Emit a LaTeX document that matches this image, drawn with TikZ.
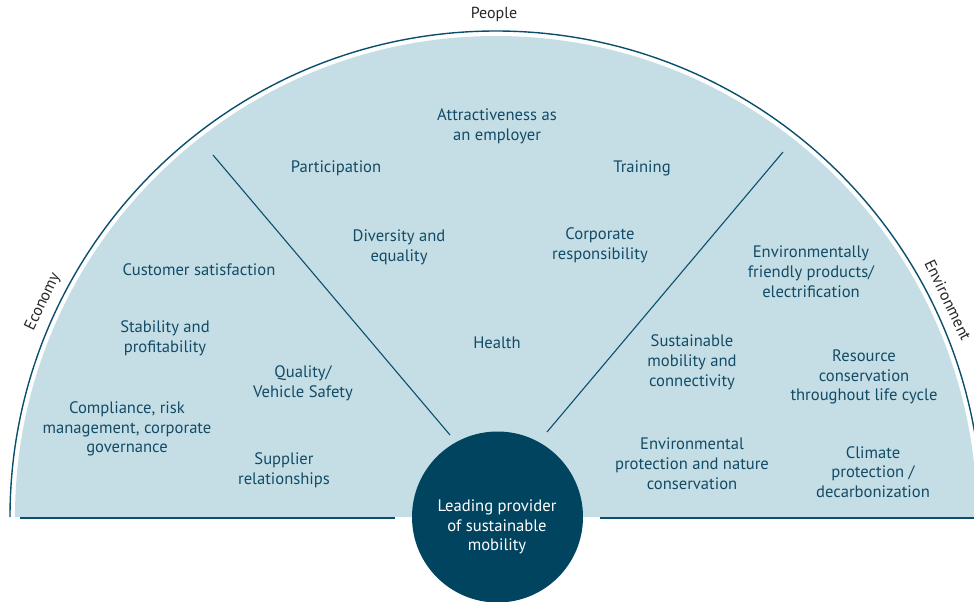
\documentclass[tikz,border=0pt]{standalone}
\usepackage{fontspec}
\setmainfont{PT Sans}
\definecolor{fillblue}{HTML}{C5DEE5}
\definecolor{darkteal}{HTML}{00445F}
\definecolor{linecol}{HTML}{0B4F6C}
\definecolor{txtcol}{HTML}{124B66}
\begin{document}
\begin{tikzpicture}[x=1pt,y=-1pt,
  item/.style={text=txtcol,font=\fontsize{16.6}{19.8}\selectfont,align=center,inner sep=0pt},
  pillar/.style={text=black!85,font=\fontsize{16}{18}\selectfont,inner sep=0pt},
  rule/.style={draw=linecol,line width=1.3pt}]
\useasboundingbox (0,0) rectangle (974,602);
\clip (0,0) rectangle (974,602);
% fill semicircle
\fill[fillblue] (15,517) arc[start angle=180,end angle=360,radius=481] -- cycle;
% outer arc
\draw[draw=linecol,line width=1.4pt] (10,517) arc[start angle=180,end angle=360,radius=486];
% baselines
\coordinate (bl1) at (20,518);
\coordinate (bl2) at (395,518);
\coordinate (br1) at (600,518);
\coordinate (br2) at (974,518);
\draw[rule] (bl1) -- (bl2);
\draw[rule] (br1) -- (br2);
% dividers
\coordinate (dl1) at (213,155);
\coordinate (dl2) at (450,435);
\coordinate (dr1) at (783,152);
\coordinate (dr2) at (547,432);
\draw[draw=linecol,line width=1.1pt] (dl1) -- (dl2);
\draw[draw=linecol,line width=1.1pt] (dr1) -- (dr2);
% centre circle
\node[circle,fill=darkteal,minimum size=171pt,inner sep=0pt] (core) at (497.5,517) {};
\node[text=white,align=center,font=\fontsize{16.6}{19.8}\selectfont,inner sep=0pt] (coretext) at (497,527)
  {Leading provider\\of sustainable\\mobility};
% pillar labels
\node[pillar] (people) at (494,14) {People};
\node[pillar,rotate=64.6] (economy) at (43,302) {Economy};
\node[pillar,rotate=-64.4] (environment) at (948,300) {Environment};
% People
\node[item] (attr) at (497,126) {Attractiveness as\\an employer};
\node[item] (part) at (336,168) {Participation};
\node[item] (train) at (642,168) {Training};
\node[item] (div) at (399,247) {Diversity and\\equality};
\node[item] (corp) at (600,245) {Corporate\\responsibility};
\node[item] (health) at (497,343) {Health};
% Economy
\node[item] (cust) at (199,270) {Customer satisfaction};
\node[item] (stab) at (165,338) {Stability and\\profitability};
\node[item] (qual) at (303,383) {Quality/\\Vehicle Safety};
\node[item] (comp) at (127,429) {Compliance, risk\\management, corporate\\governance};
\node[item] (supp) at (284,470) {Supplier\\relationships};
% Environment
\node[item] (envf) at (811,272) {Environmentally\\friendly products/\\electrification};
\node[item] (sust) at (692,362) {Sustainable\\mobility and\\connectivity};
\node[item] (res) at (864,377) {Resource\\conservation\\throughout life cycle};
\node[item] (envp) at (692,464) {Environmental\\protection and nature\\conservation};
\node[item] (clim) at (873,472) {Climate\\protection /\\decarbonization};
\end{tikzpicture}
\end{document}
